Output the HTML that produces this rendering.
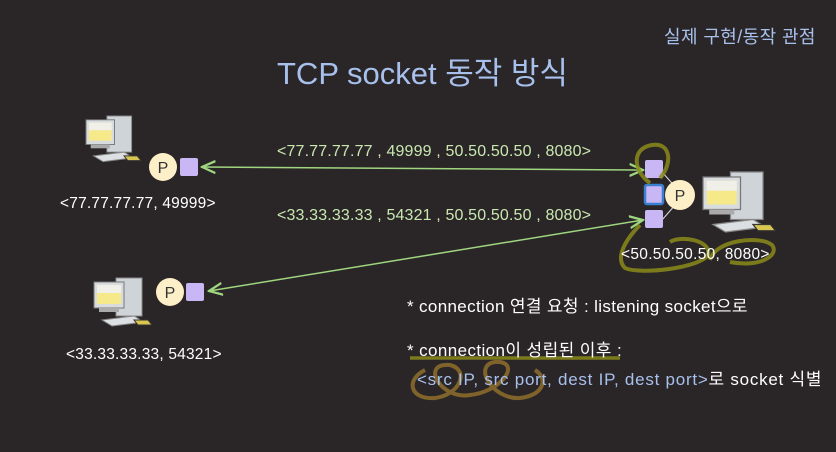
<!DOCTYPE html>
<html><head><meta charset="utf-8"><style>
body{margin:0;width:836px;height:452px;background:#2a2628;overflow:hidden;position:relative;font-family:"Liberation Sans","Noto Sans CJK KR",sans-serif}
.t{position:absolute;white-space:nowrap}
</style></head><body>
<svg width="836" height="452" style="position:absolute;left:0;top:0">
<defs>
<g id="pc">
<rect x="22" y="0" width="26" height="38" fill="#cfd4d8" stroke="#888" stroke-width="1"/>
<rect x="0" y="4" width="30" height="26" fill="#d8dcdf" stroke="#777"/>
<rect x="3" y="7" width="24" height="19" fill="#f6e98a"/>
<rect x="3" y="7" width="24" height="8" fill="#f0f0e8"/>
<rect x="5" y="30" width="20" height="4" fill="#aaa"/>
<polygon points="8,42 40,38 50,44 18,48" fill="#dde0e3" stroke="#888"/>
<polygon points="40,42 54,42 58,47 44,47" fill="#d9c650" stroke="#333"/>
</g>
<marker id="a" markerWidth="10" markerHeight="10" refX="9" refY="5" orient="auto"><path d="M0,1 L9,5 L0,9" fill="none" stroke="#9fd67f" stroke-width="1.5"/></marker>
<marker id="b" markerWidth="10" markerHeight="10" refX="1" refY="5" orient="auto"><path d="M10,1 L1,5 L10,9" fill="none" stroke="#9fd67f" stroke-width="1.5"/></marker>
</defs>
<use href="#pc" transform="translate(86,116) scale(0.95)"/>
<use href="#pc" transform="translate(94,278) scale(1.0)"/>
<use href="#pc" transform="translate(703,172) scale(1.25)"/>
<line x1="202" y1="167" x2="643" y2="170" stroke="#9fd67f" stroke-width="1.5" marker-start="url(#b)" marker-end="url(#a)"/>
<line x1="209" y1="291" x2="643" y2="220" stroke="#9fd67f" stroke-width="1.5" marker-start="url(#b)" marker-end="url(#a)"/>
<line x1="662" y1="172" x2="678" y2="190" stroke="#ddd" stroke-width="1"/>
<line x1="662" y1="220" x2="676" y2="204" stroke="#ddd" stroke-width="1"/>
<circle cx="163" cy="167" r="14" fill="#fdf0c8"/>
<rect x="180" y="158" width="18" height="18" rx="2" fill="#c9b6f5"/>
<circle cx="170" cy="292" r="14" fill="#fdf0c8"/>
<rect x="186" y="283" width="18" height="18" rx="2" fill="#c9b6f5"/>
<rect x="645" y="160" width="18" height="18" rx="2" fill="#c9b6f5"/>
<rect x="645" y="185" width="18" height="19" rx="2" fill="#c9b6f5" stroke="#3a80d0" stroke-width="2.5"/>
<rect x="645" y="210" width="18" height="18" rx="2" fill="#c9b6f5"/>
<circle cx="680" cy="195" r="15" fill="#fdf0c8"/>
<text x="163" y="173" font-size="16" text-anchor="middle" fill="#333" font-family="Liberation Sans">P</text>
<text x="170" y="298" font-size="16" text-anchor="middle" fill="#333" font-family="Liberation Sans">P</text>
<text x="680" y="201" font-size="16" text-anchor="middle" fill="#333" font-family="Liberation Sans">P</text>
<g fill="none" stroke="#8a8a1a" stroke-width="4" opacity="0.85">
<path d="M650,183 C632,170 632,148 652,145 C672,142 672,165 660,178"/>
<path d="M640,225 C625,240 615,258 625,268 C640,275 700,268 708,255 C712,240 680,235 670,242"/>
<path d="M710,260 C715,240 760,235 772,245 C780,255 760,268 730,262"/>
<path d="M410,358 L620,358" stroke-width="3.5"/>
</g>
<g fill="none" stroke="#8a6a2a" stroke-width="4" opacity="0.9">
<path d="M425,370 C405,380 410,400 435,398 C460,395 470,370 450,365 C420,362 440,400 470,395 C500,392 520,365 500,362 C470,360 490,400 520,398 C545,395 548,378 535,370"/>
</g>
</svg>
<div class="t" style="left:664px;top:23px;font-size:18px;letter-spacing:0.4px;color:#a8c0ec">실제 구현/동작 관점</div>
<div class="t" style="left:277px;top:48px;font-size:31px;color:#a8c0ec">TCP socket 동작 방식</div>
<div class="t" style="left:277px;top:143px;font-size:16px;letter-spacing:0.15px;color:#c9e8b0">&lt;77.77.77.77 , 49999 , 50.50.50.50 , 8080&gt;</div>
<div class="t" style="left:277px;top:207px;font-size:16px;letter-spacing:0.15px;color:#c9e8b0">&lt;33.33.33.33 , 54321 , 50.50.50.50 , 8080&gt;</div>
<div class="t" style="left:60px;top:195px;font-size:15.5px;letter-spacing:0.2px;color:#fff">&lt;77.77.77.77, 49999&gt;</div>
<div class="t" style="left:66px;top:346px;font-size:15.5px;letter-spacing:0.2px;color:#fff">&lt;33.33.33.33, 54321&gt;</div>
<div class="t" style="left:621px;top:246px;font-size:15.5px;letter-spacing:0.3px;color:#fff">&lt;50.50.50.50, 8080&gt;</div>
<div class="t" style="left:407px;top:292px;font-size:17px;letter-spacing:0.35px;color:#fff">* connection 연결 요청 : listening socket으로</div>
<div class="t" style="left:407px;top:336px;font-size:17px;letter-spacing:0.4px;color:#fff">* connection이 성립된 이후 :</div>
<div class="t" style="left:417px;top:365px;font-size:17px;letter-spacing:0.75px;color:#fff"><span style="color:#a8c0ec">&lt;src IP, src port, dest IP, dest port&gt;</span>로 socket 식별</div>
</body></html>
